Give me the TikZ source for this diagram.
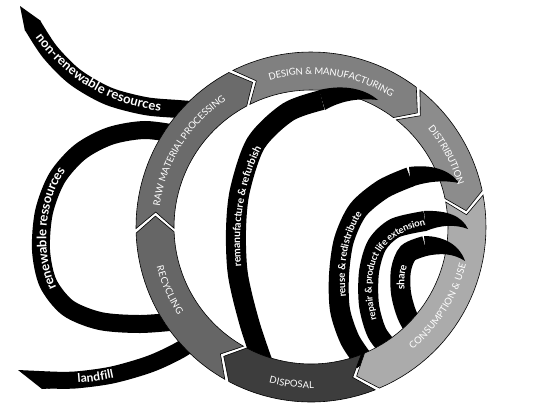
\documentclass[tikz,border=0pt]{standalone}
\usepackage{fontspec}
\newfontfamily\lblfont{Lato}
\usetikzlibrary{decorations.text}

\definecolor{rawgray}{gray}{0.42}
\definecolor{designgray}{gray}{0.50}
\definecolor{distgray}{gray}{0.55}
\definecolor{usegray}{gray}{0.67}
\definecolor{disposegray}{gray}{0.24}
\definecolor{recyclegray}{gray}{0.40}

\newcommand{\segfont}{\lblfont\fontsize{9.5}{11}\selectfont}

\begin{document}
\begin{tikzpicture}[x=1pt, y=-1pt]
    \useasboundingbox (0,0) rectangle (540,413);

    \tikzstyle{band} = [black, line width=20pt]
    \tikzstyle{seg} = [draw=black, line width=0.6pt]
    \tikzstyle{segtext} = [decorate, decoration={text along path, text color=white, text align=center, raise=-3.4pt}]
    \tikzstyle{bandtext} = [decorate, decoration={text along path, text color=white, text align=center, raise=-3.5pt}]

    % resources in, landfill out
    \draw[band, line width=18pt] plot[smooth] coordinates {(33,26) (50,52) (75,77) (108,96) (145,106) (178,109) (205,111)};
    \fill (41,21) -- (20,6) -- (25,31) -- (35,32) -- cycle;
    \draw[band, line width=18pt] plot[smooth] coordinates {(180,321) (140,324) (100,321) (68,308) (48,283) (41,250) (44,212) (57,178) (80,152) (110,136) (145,130) (182,135)};
    \draw[band, line width=17pt] plot[smooth] coordinates {(205,333) (180,350) (150,364) (112,375) (75,380) (48,380)};
    \fill (50,371.5) -- (18,370) -- (42,389) -- (50,388.5) -- cycle;

    % inner loops
    \draw[band] plot[smooth] coordinates {(266,372) (250,325) (238,275) (236,230) (240,190) (256,143) (288,112) (322,100)};
    \draw[band] plot[smooth] coordinates {(365,362) (350,340) (340,310) (339,275) (344,240) (358,210) (383,189) (410,177)};
    \draw[band] plot[smooth] coordinates {(392,352) (377,333) (369,305) (369,272) (377,245) (395,228) (425,221)};
    \draw[band] plot[smooth] coordinates {(418,335) (407,315) (401,293) (401,270) (408,253) (425,246)};

    % the ring
    \begin{scope}[shift={(311,227)}]
        \foreach \a/\b/\col in {-182/-118/rawgray, -118/-53/designgray, -53/-12/distgray, -12/67/usegray, 67/118/disposegray, 118/178/recyclegray}
            \fill[\col, seg] plot[domain=\a+1.5:\b, samples=30] (\x:175) -- (\b+6:156)
                -- plot[domain=\b:\a+1.5, samples=30] (\x:137) -- (\a+7.5:156) -- cycle;
    \end{scope}

    % arrow heads over the ring
    \fill (319,90) .. controls (345,84) and (365,89) .. (378,100) .. controls (360,98) and (342,100) .. (325,110) -- cycle;
    \fill (409,167) .. controls (432,164) and (450,170) .. (459,183) .. controls (445,180) and (428,181) .. (411,187) -- cycle;
    \fill (424,211) .. controls (447,210) and (462,216) .. (468,229) .. controls (455,224) and (440,225) .. (426,231) -- cycle;
    \fill (424,236) .. controls (445,236) and (460,246) .. (465,261) .. controls (453,253) and (440,253) .. (426,256) -- cycle;

    % labels on the ring
    \begin{scope}[shift={(311,227)}]
        \path[segtext, decoration={text={|\segfont|RAW MATERIAL PROCESSING}}] plot[domain=-180:-116, samples=40] (\x:156);
        \path[segtext, decoration={text={|\segfont|DESIGN {\&} MANUFACTURING}}] plot[domain=-117:-47, samples=40] (\x:156);
        \path[segtext, decoration={text={|\segfont|DISTRIBUTION}}] plot[domain=-52:-4, samples=30] (\x:156);
        \path[segtext, decoration={text={|\segfont|CONSUMPTION {\&} USE}}] plot[domain=68:-4, samples=40] (\x:156);
        \path[segtext, decoration={text={|\segfont|DISPOSAL}}] plot[domain=122:72, samples=30] (\x:158);
        \path[segtext, decoration={text={|\segfont|RECYCLING}}] plot[domain=182:130, samples=30] (\x:156);
    \end{scope}

    % labels on the black bands
    \path[bandtext, decoration={text={|\lblfont\bfseries\fontsize{13}{15}\selectfont|non-renewable resources}}] (32,26) .. controls (58,66) and (100,103) .. (172,109);
    \path[bandtext, decoration={text={|\lblfont\bfseries\fontsize{13}{15}\selectfont|renewable ressources}}] (68,308) .. controls (35,285) and (30,185) .. (80,152);
    \path[bandtext, decoration={text={|\lblfont\bfseries\fontsize{12}{14}\selectfont|landfill}}] (50,380) .. controls (80,381) and (115,376) .. (140,367);
    \path[bandtext, decoration={text={|\lblfont\bfseries\fontsize{10.5}{12}\selectfont|remanufacture {\&} refurbish}}] (247,312) .. controls (228,255) and (232,160) .. (286,110);
    \path[bandtext, decoration={text={|\lblfont\bfseries\fontsize{10}{12}\selectfont|reuse {\&} redistribute}}] (350,330) .. controls (333,280) and (340,215) .. (383,189);
    \path[bandtext, decoration={text={|\lblfont\bfseries\fontsize{9.5}{11}\selectfont|repair {\&} product life extension}}] (380,340) .. controls (358,285) and (360,225) .. (445,219);
    \path[bandtext, decoration={text={|\lblfont\bfseries\fontsize{10.5}{12}\selectfont|share}}] (407,315) .. controls (397,290) and (398,255) .. (420,246);
\end{tikzpicture}
\end{document}
